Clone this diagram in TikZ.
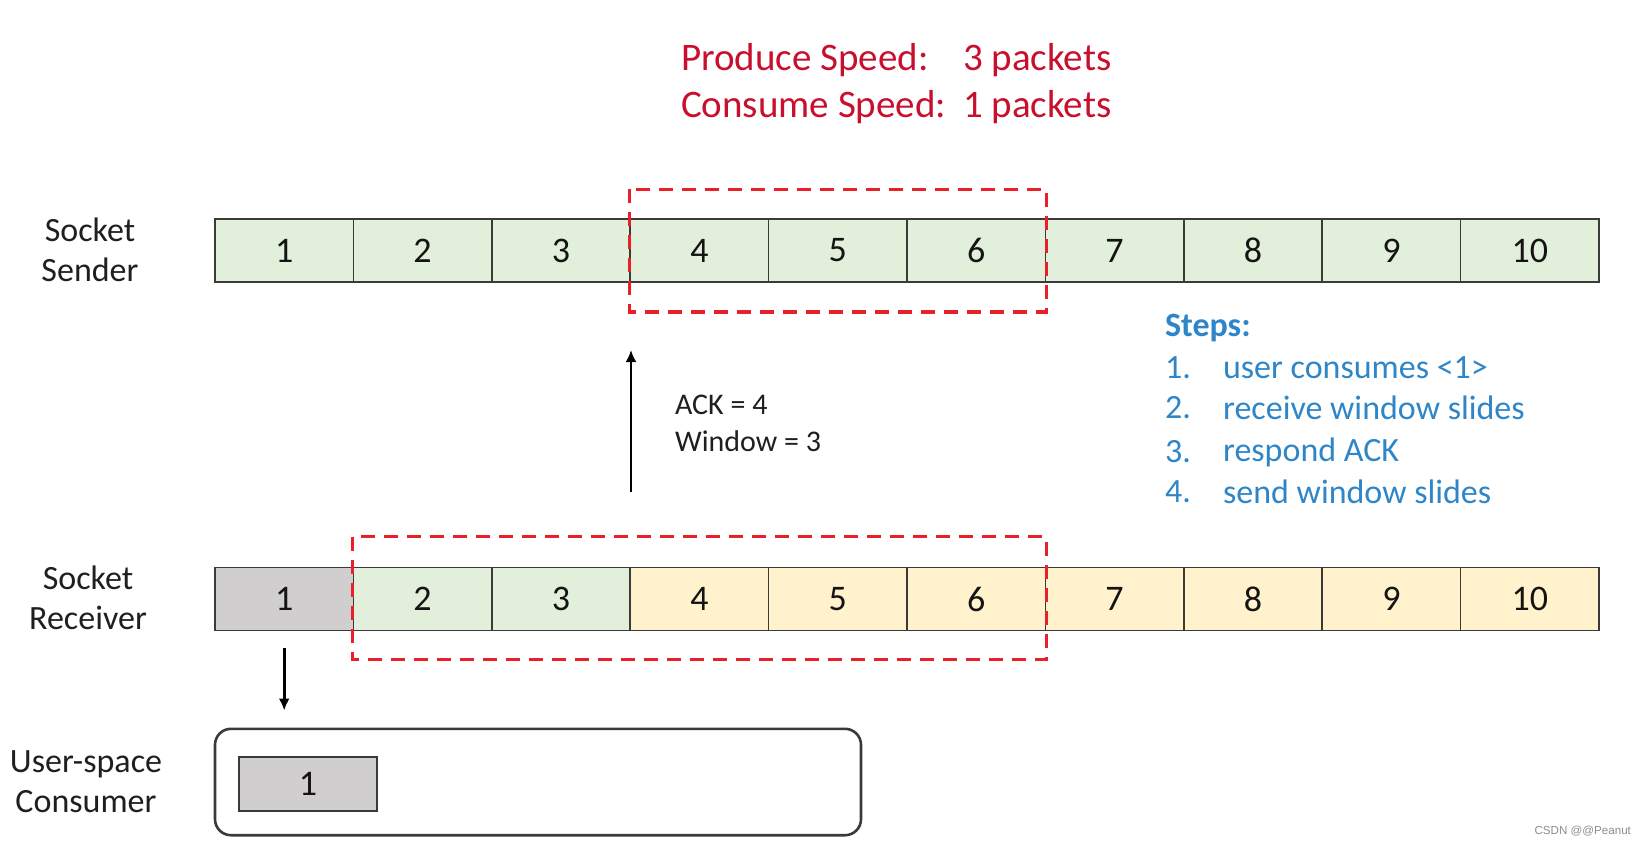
\documentclass[tikz,border=0pt]{standalone}
\usepackage{fontspec}
\setmainfont{Carlito}
\newfontfamily\markfont{Liberation Sans}
\usetikzlibrary{positioning,arrows.meta}
\definecolor{cellgreen}{HTML}{E2EFDA}
\definecolor{cellyellow}{HTML}{FFF2CC}
\definecolor{cellgray}{HTML}{D0CECE}
\definecolor{winred}{HTML}{E8202A}
\definecolor{titlered}{HTML}{C8102E}
\definecolor{stepblue}{HTML}{2E86C8}
\definecolor{inkgray}{HTML}{3A3A3A}
\tikzset{
  cell/.style={draw=inkgray, line width=0.8pt, minimum width=69.2pt, minimum height=31.5pt,
    inner sep=0pt, font=\fontsize{18}{20}\selectfont, text=black!92},
  window/.style={draw=winred, line width=1.7pt, dash pattern=on 7pt off 4.5pt},
  rowlabel/.style={align=center, font=\fontsize{17}{20}\selectfont, text=black!88},
  flow/.style={line width=1.4pt, -{Latex[length=6pt,width=5.5pt]}},
  speed/.style={anchor=west, text=titlered, font=\fontsize{19.5}{22}\selectfont},
  stepitem/.style={anchor=west, text=stepblue, font=\fontsize{17}{20}\selectfont},
}
\begin{document}
\begin{tikzpicture}[x=0.5pt,y=-0.5pt]
\useasboundingbox (0,0) rectangle (1652,846);

% speeds
\node[speed] (produce) at (674,60) {Produce Speed:};
\node[speed] (producev) at (956,60) {3 packets};
\node[speed] (consume) at (674,107) {Consume Speed:};
\node[speed] (consumev) at (956,107) {1 packets};

% sender buffer
\foreach \i in {1,...,10}
  \node[cell, fill=cellgreen] (s\i) at ({215+138.4*(\i-0.5)},250.5) {\i};
\node[rowlabel] (sender) at (90,250) {Socket\\Sender};
\draw[window] ([yshift=14.5pt]s4.north west) rectangle ([yshift=-14.5pt]s6.south east);

% receiver buffer
\foreach \i/\c in {1/cellgray,2/cellgreen,3/cellgreen,4/cellyellow,5/cellyellow,
    6/cellyellow,7/cellyellow,8/cellyellow,9/cellyellow,10/cellyellow}
  \node[cell, fill=\c] (r\i) at ({215+138.4*(\i-0.5)},599) {\i};
\node[rowlabel] (receiver) at (88,598) {Socket\\Receiver};
\draw[window] ([yshift=15pt]r2.north west) rectangle ([yshift=-14pt]r6.south east);

% ack
\coordinate (ackfoot) at (631,492);
\coordinate (ackhead) at (631,350);
\draw[flow] (ackfoot) -- (ackhead);
\node[anchor=west, font=\fontsize{15}{18}\selectfont, text=black!88] (ack) at (668,405) {ACK = 4};
\node[anchor=west, font=\fontsize{15}{18}\selectfont, text=black!88] (win) at (668,441) {Window = 3};

% steps
\node[stepitem, font=\bfseries\fontsize{17}{20}\selectfont] (steps) at (1158,328) {Steps:};
\foreach \n/\t/\y in {1/user consumes <1>/368, 2/receive window slides/408,
    3/respond ACK/452, 4/send window slides/492} {
  \node[stepitem] (num\n) at (1158,\y) {\n.};
  \node[stepitem] (step\n) at (1216,\y) {\t};
}

% consumer
\node[draw=inkgray, line width=1.3pt, rounded corners=8pt, minimum width=323pt,
  minimum height=53.2pt] (consumer) at (538,782) {};
\node[cell, fill=cellgray, line width=1pt, minimum width=69pt, minimum height=27.2pt] (c1) at (308,784) {1};
\node[rowlabel] (userlabel) at (86,782) {User-space\\Consumer};
\draw[flow] ([yshift=-8.5pt]r1.south) -- ([yshift=8.5pt]consumer.north -| r1.south);

% watermark
\node[anchor=east, text=black!45, font=\markfont\fontsize{5.8}{7}\selectfont] (mark) at (1638,831) {CSDN @@Peanut};
\end{tikzpicture}
\end{document}
